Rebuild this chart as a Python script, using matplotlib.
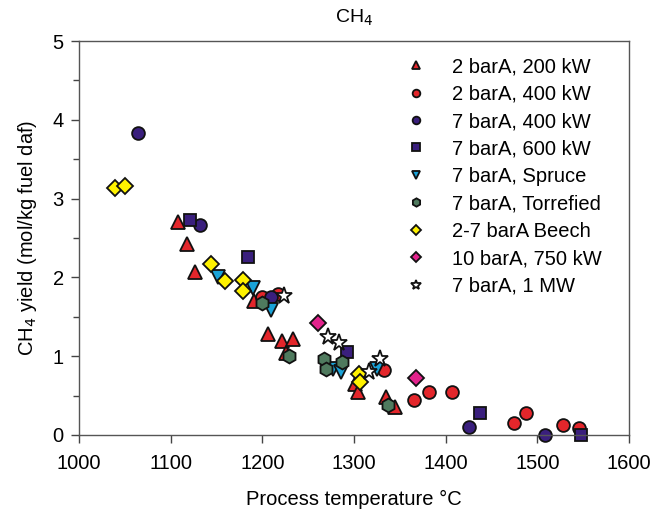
import matplotlib
matplotlib.use("Agg")
import matplotlib.pyplot as plt
from matplotlib.ticker import MultipleLocator

plt.rcParams['font.family'] = ['Liberation Sans', 'DejaVu Sans']

# ---- data ----
t_2bar_200 = [1108, 1118, 1127, 1191, 1206, 1221, 1233, 1226, 1301, 1304, 1335, 1345]
y_2bar_200 = [2.70, 2.43, 2.07, 1.70, 1.28, 1.19, 1.22, 1.04, 0.645, 0.55, 0.48, 0.35]

t_2bar_400 = [1200, 1217, 1333, 1366, 1382, 1407, 1475, 1488, 1528, 1546]
y_2bar_400 = [1.755, 1.79, 0.83, 0.45, 0.54, 0.55, 0.15, 0.28, 0.13, 0.09]

t_7bar_400 = [1064, 1132, 1210, 1426, 1508]
y_7bar_400 = [3.83, 2.66, 1.755, 0.10, 0.0]

t_7bar_600 = [1121, 1184, 1292, 1437, 1548]
y_7bar_600 = [2.73, 2.26, 1.05, 0.275, 0.0]

t_spruce = [1152, 1190, 1210, 1277, 1286, 1325]
y_spruce = [2.01, 1.86, 1.59, 0.835, 0.80, 0.835]

t_torr = [1200, 1229, 1267, 1270, 1287, 1337]
y_torr = [1.67, 1.00, 0.96, 0.84, 0.93, 0.38]

t_beech = [1039, 1050, 1144, 1159, 1179, 1179, 1306, 1307]
y_beech = [3.135, 3.16, 2.17, 1.95, 1.97, 1.83, 0.77, 0.675]

t_10bar = [1261, 1368]
y_10bar = [1.42, 0.72]

t_1mw = [1224, 1272, 1284, 1316, 1328]
y_1mw = [1.76, 1.24, 1.17, 0.80, 0.97]

labels = ["2 barA, 200 kW", "2 barA, 400 kW", "7 barA, 400 kW", "7 barA, 600 kW",
          "7 barA, Spruce", "7 barA, Torrefied", "2-7 barA Beech",
          "10 barA, 750 kW", "7 barA, 1 MW"]

series = [
    (t_2bar_200, y_2bar_200, '^', '#E3262B', 9.5),
    (t_2bar_400, y_2bar_400, 'o', '#E3262B', 9.2),
    (t_7bar_400, y_7bar_400, 'o', '#3A1F7D', 9.2),
    (t_7bar_600, y_7bar_600, 's', '#3A1F7D', 8.5),
    (t_spruce, y_spruce, 'v', '#1AA3D8', 9.5),
    (t_torr, y_torr, 'h', '#4F7A5E', 10),
    (t_beech, y_beech, 'D', '#FFF200', 8),
    (t_10bar, y_10bar, 'D', '#E2238C', 8),
    (t_1mw, y_1mw, '*', '#FFFFFF', 12.5),
]

fig = plt.figure(figsize=(6.55, 5.16), dpi=100)
ax = fig.add_axes([0.1206, 0.157, 0.8397, 0.7635])

for (t, y, m, c, ms), lab in zip(series, labels):
    ax.plot(t, y, linestyle='none', marker=m, markerfacecolor=c,
            markeredgecolor='#111111', markeredgewidth=1.3, markersize=ms,
            label=lab, clip_on=False)

ax.set_xlim(1000, 1600)
ax.set_ylim(0, 5)
ax.xaxis.set_major_locator(MultipleLocator(100))
ax.yaxis.set_major_locator(MultipleLocator(1))
ax.yaxis.set_minor_locator(MultipleLocator(0.5))
ax.tick_params(axis='both', which='both', direction='out', labelsize=14.5,
               color='#444444', width=1)
ax.tick_params(which='major', length=6)
ax.tick_params(which='minor', length=4)
ax.tick_params(axis='x', pad=8)
ax.tick_params(axis='y', pad=5)
ax.tick_params(top=False, right=False)
for sp in ax.spines.values():
    sp.set_color('#555555')
    sp.set_linewidth(1)

ax.set_title("CH$_4$", fontsize=14, pad=13)
ax.set_xlabel("Process temperature °C", fontsize=14.5, labelpad=12)
ax.set_ylabel("CH$_4$ yield (mol/kg fuel daf)", fontsize=14.5, labelpad=10)

leg = ax.legend(loc='upper left', bbox_to_anchor=(0.565, 1.0), frameon=False,
                fontsize=14.5, markerscale=0.6, handlelength=1.0,
                handletextpad=1.3, labelspacing=0.42, borderaxespad=0.4)

fig.savefig("out.png", dpi=100)
